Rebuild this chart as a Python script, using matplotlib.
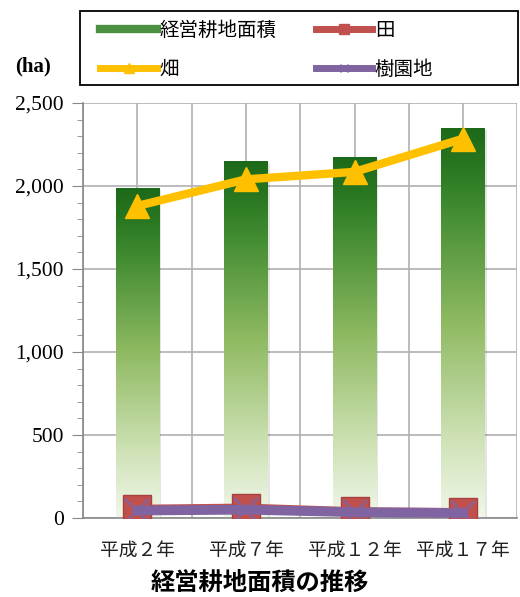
import numpy as np
import matplotlib.pyplot as plt
from matplotlib.colors import LinearSegmentedColormap
from matplotlib.lines import Line2D
from matplotlib.patches import Rectangle
from matplotlib.ticker import MultipleLocator, FuncFormatter

plt.rcParams['font.family'] = ['Noto Sans CJK JP', 'DejaVu Sans']

# 経営耕地面積 (ha)
years = ['平成２年', '平成７年', '平成１２年', '平成１７年']
total = [1990, 2150, 2175, 2350]
hatake = [1880, 2040, 2085, 2285]
ta = [55, 62, 40, 35]
juenchi = [45, 50, 35, 30]

fig = plt.figure(figsize=(5.2, 5.97), dpi=100)
ax = fig.add_axes([0.16, 0.1323, 0.835, 0.6952])

x = np.arange(len(years))
bw = 0.4

# グラデーションの棒
cmap = LinearSegmentedColormap.from_list(
    'g', [(0.0, '#f0f7ea'), (0.2, '#cfe2b6'), (0.5, '#8fba62'),
          (0.8, '#3f8a30'), (0.9, '#2a7722'), (1.0, '#1c6a19')])
grad = np.linspace(0, 1, 256).reshape(-1, 1)
bars = ax.bar(x, total, width=bw, color='none', zorder=2)
for b in bars:
    x0, y0 = b.get_x(), b.get_y()
    w, h = b.get_width(), b.get_height()
    # 影
    ax.add_patch(Rectangle((x0 + 0.02, y0), w, h - 15, color='#000000', alpha=0.10,
                           lw=0, zorder=1.5))
    im = ax.imshow(grad, cmap=cmap, aspect='auto', origin='lower',
                   extent=(x0, x0 + w, y0, y0 + h), zorder=2)
    im.set_clip_path(b)

ax.plot(x, hatake, color='#ffc000', lw=6, marker='^', ms=17, mec='#ffc000',
        zorder=4, solid_capstyle='round')
ax.plot(x, ta, color='#c0504d', lw=6, marker='s', ms=20, mec='#a8403e', zorder=4)
ax.plot(x, juenchi, color='#8064a2', lw=7, marker='x', ms=17, mew=1.5, zorder=5)

ax.set_xlim(-0.5, 3.45)
ax.set_ylim(0, 2500)
ax.yaxis.set_major_locator(MultipleLocator(500))
ax.yaxis.set_minor_locator(MultipleLocator(100))
ax.yaxis.set_major_formatter(FuncFormatter(lambda v, p: f'{int(v):,}'))
ax.set_xticks(x)
ax.set_xticklabels(years, fontsize=13.5, color='#222222')
ax.set_xticks(np.arange(-0.5, 3.6, 0.5), minor=True)
ax.tick_params(axis='x', which='both', length=0, pad=16)
ax.tick_params(axis='y', which='major', length=8, color='#888888', pad=6)
ax.tick_params(axis='y', which='minor', length=4, color='#888888')
for lab in ax.get_yticklabels():
    lab.set_fontfamily('Liberation Serif')
    lab.set_fontsize(15.5)

ax.grid(axis='y', which='major', color='#b0b0b0', lw=1.2, zorder=0)
ax.grid(axis='x', which='both', color='#b0b0b0', lw=1.2, zorder=0)
ax.set_axisbelow(True)
for s in ['top', 'right']:
    ax.spines[s].set_visible(False)
ax.spines['left'].set_color('#888888')
ax.spines['bottom'].set_color('#888888')
ax.spines['left'].set_linewidth(1.2)
ax.spines['bottom'].set_linewidth(1.2)

# 凡例（枠は別に描く）
fig.add_artist(Rectangle((0.154, 0.858), 0.842, 0.1236, transform=fig.transFigure,
                         fill=False, ec='black', lw=1.3))
handles = [
    Line2D([], [], color='#4a9040', lw=6),
    Line2D([], [], color='#ffc000', lw=5, marker='^', ms=7),
    Line2D([], [], color='#c0504d', lw=5, marker='s', ms=7),
    Line2D([], [], color='#8064a2', lw=5, marker='x', ms=6),
]
labels = ['経営耕地面積', '畑', '田', '樹園地']
leg = fig.legend(handles, labels, ncol=2, loc='upper left',
                 bbox_to_anchor=(0.193, 0.966), borderaxespad=0, borderpad=0,
                 frameon=False, fontsize=14, handlelength=2.9, handletextpad=0.15,
                 columnspacing=2.0, labelspacing=0.9)

fig.text(0.03, 0.888, '(ha)', fontsize=15, fontweight='bold',
         family='Liberation Serif', va='center')
fig.text(0.5, 0.024, '経営耕地面積の推移', fontsize=17.5, fontweight='bold',
         ha='center', va='center')

fig.savefig('out.png', dpi=100)
